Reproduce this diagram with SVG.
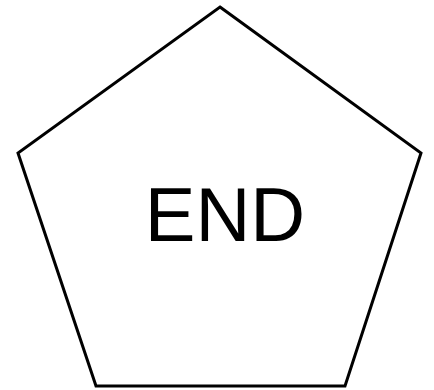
<svg xmlns="http://www.w3.org/2000/svg" width="434" height="390" viewBox="0 0 434 390">
<style>
.shape{fill:#fff;stroke:#000;stroke-width:3;stroke-linejoin:miter}
.lbl{font-family:"Liberation Sans",Arial,sans-serif;font-size:76px;fill:#000;text-anchor:middle}
</style>
<rect width="434" height="390" fill="#fff"/>
<g id="connectors"></g>
<g id="end">
<polygon class="shape" points="220,7 421,153 345,386 96,386 18,153"/>
<text class="lbl" x="225" y="241">END</text>
</g>
</svg>
